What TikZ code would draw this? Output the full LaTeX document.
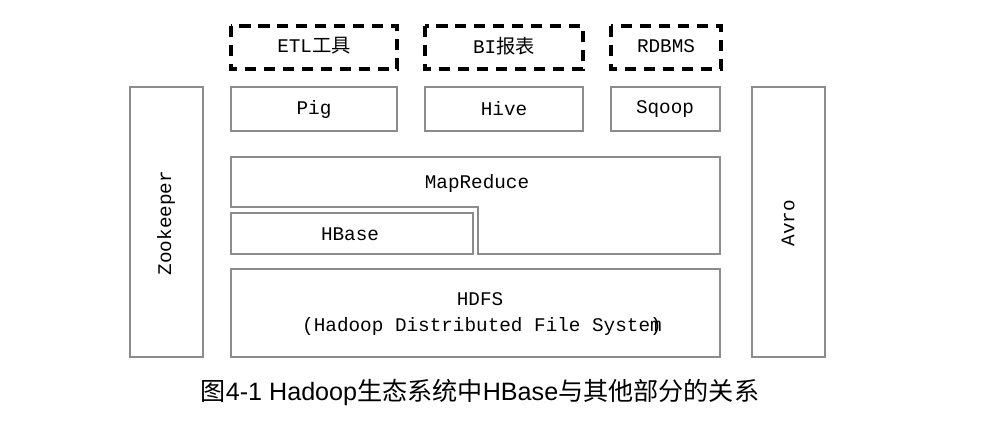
\documentclass[tikz,border=0pt]{standalone}
\usepackage{fontspec}
\setmainfont{Liberation Mono}
\newfontfamily\cjk{Noto Sans CJK SC}
\newfontfamily\capfont{Liberation Sans}
\definecolor{boxgray}{RGB}{140,140,140}
\tikzset{
  box/.style={draw=boxgray, line width=0.6pt},
  dbox/.style={draw=black, line width=2.2pt, dash pattern=on 6.5pt off 4.3pt},
  lbl/.style={inner sep=0pt, font=\fontsize{11}{13}\selectfont},
}

\begin{document}
\begin{tikzpicture}[x=0.02cm, y=-0.02cm]
  \useasboundingbox (0,0) rectangle (986,420);

%tools on top:
  \draw[dbox] (231,26) rectangle (397,69);
  \draw[dbox] (425,26) rectangle (583,69);
  \draw[dbox] (611,26) rectangle (721,69);
  \node[lbl] (etl) at (314,46) {ETL{\cjk 工具}};
  \node[lbl] (bi) at (504,46) {BI{\cjk 报表}};
  \node[lbl] (rdbms) at (666,46) {RDBMS};

  \draw[box] (231,87) rectangle (397,131);
  \draw[box] (425,87) rectangle (583,131);
  \draw[box] (611,87) rectangle (720,131);
  \node[lbl] (pig) at (314,109) {Pig};
  \node[lbl] (hive) at (504,109) {Hive};
  \node[lbl] (sqoop) at (665,109) {Sqoop};

%side bars:
  \draw[box] (130,87) rectangle (203,357);
  \draw[box] (752,87) rectangle (825,357);
  \node[lbl, rotate=90] (zk) at (166,223) {Zookeeper};
  \node[lbl, rotate=90] (avro) at (788,223) {Avro};

%core stack:
  \draw[box] (231,157) -- (720,157) -- (720,254) -- (478,254) -- (478,207) -- (231,207) -- cycle;
  \node[lbl] (mr) at (477,183) {MapReduce};
  \draw[box] (231,213) rectangle (473,254);
  \node[lbl] (hbase) at (350,234) {HBase};
  \draw[box] (231,269) rectangle (720,357);
  \node[lbl] (hdfs) at (480,299) {HDFS};
  \node[lbl] (hdfsfull) at (482,326) {(Hadoop Distributed File Syste\rlap{)}m};
%%%%%%

  \node[inner sep=0pt, font=\capfont\fontsize{14.3}{16}\selectfont] (cap) at (480,392)
    {{\cjk 图}4-1 Hadoop{\cjk 生态系统中}HBase{\cjk 与其他部分的关系}};

\end{tikzpicture}
\end{document}
